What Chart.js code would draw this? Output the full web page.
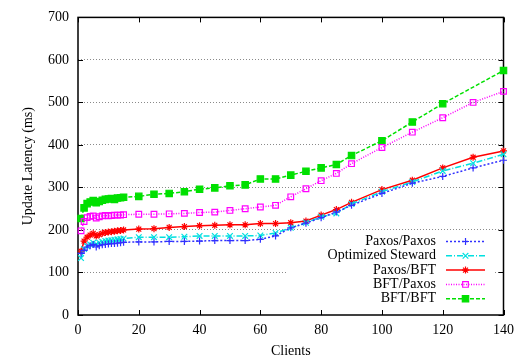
<!DOCTYPE html>
<html>
<head>
<meta charset="utf-8">
<script src="https://cdn.jsdelivr.net/npm/chart.js@4/dist/chart.umd.min.js"></script>
<style>
  body { margin: 0; background: #fff; }
  canvas { display: block; }
</style>
</head>
<body>
<canvas id="chart" width="521" height="364"></canvas>
<script>
// number of clients on the x axis
const clients = [1, 2, 3, 4, 5, 6, 7, 8, 9, 10, 11, 12, 13, 14, 15,
  20, 25, 30, 35, 40, 45, 50, 55, 60, 65, 70, 75, 80, 85, 90,
  100, 110, 120, 130, 140];

// update latency (ms) per configuration
const paxosPaxos = [145, 152, 160, 163, 166, 160, 163, 165, 166, 167, 168, 168, 169, 170, 171,
  172, 172, 173, 173, 174, 175, 175, 175, 178, 186, 205, 216, 229, 242, 258,
  286, 310, 326, 346, 364];
const optimizedSteward = [134, 155, 162, 166, 170, 167, 170, 172, 174, 175, 176, 177, 178, 179, 180,
  183, 183, 183, 184, 186, 186, 186, 186, 187, 193, 205, 217, 231, 239, 261,
  290, 313, 339, 357, 378];
const paxosBft = [150, 174, 183, 188, 192, 186, 189, 192, 194, 195, 196, 197, 198, 199, 200,
  202, 203, 206, 208, 210, 211, 212, 212, 215, 215, 217, 221, 235, 248, 265,
  295, 317, 346, 371, 386];
const bftPaxos = [198, 220, 229, 232, 233, 228, 231, 233, 234, 233, 234, 235, 235, 235, 236,
  237, 237, 238, 239, 241, 242, 246, 250, 254, 258, 278, 297, 316, 333, 356,
  394, 430, 464, 500, 526];
const bftBft = [227, 252, 262, 266, 269, 264, 267, 270, 272, 273, 274, 272, 275, 276, 277,
  279, 284, 286, 290, 296, 299, 304, 306, 320, 320, 329, 338, 346, 354, 375,
  410, 454, 497, null, 575];

const xTicks = [0, 20, 40, 60, 80, 100, 120, 140];
const yTicks = [0, 100, 200, 300, 400, 500, 600, 700];

const FONT = "'Liberation Serif', 'DejaVu Serif', serif";

function series(label, values, color, dash, style, radius, fill) {
  return {
    label: label,
    data: clients.map((c, i) => ({ x: c, y: values[i] })),
    borderColor: color,
    backgroundColor: fill ? color : 'rgba(0,0,0,0)',
    borderWidth: 1.5,
    borderDash: dash,
    pointStyle: style,
    pointRadius: radius,
    pointBorderWidth: 1.2,
    pointBorderColor: color,
    pointBackgroundColor: fill ? color : 'rgba(0,0,0,0)',
    pointHoverRadius: radius,
    tension: 0,
    spanGaps: true,
    clip: false,
  };
}

// gnuplot-like key: right-aligned text followed by a sample line and marker
const keyPlugin = {
  id: 'key',
  beforeDatasetsDraw(chart) {
    const ctx = chart.ctx;
    ctx.save();
    ctx.fillStyle = '#fff';
    ctx.fillRect(286, 233, 208, 74);
    ctx.restore();
  },
  afterDatasetsDraw(chart) {
    const ctx = chart.ctx;
    ctx.save();
    ctx.font = '14px ' + FONT;
    ctx.textAlign = 'right';
    ctx.textBaseline = 'middle';
    chart.data.datasets.forEach((ds, i) => {
      const y = 241.5 + i * 14.3;
      ctx.fillStyle = '#000';
      ctx.fillText(ds.label, 436, y);
      ctx.strokeStyle = ds.borderColor;
      ctx.lineWidth = ds.borderWidth;
      ctx.setLineDash(ds.borderDash);
      ctx.beginPath();
      ctx.moveTo(446, y);
      ctx.lineTo(485, y);
      ctx.stroke();
      ctx.setLineDash([]);
      ctx.fillStyle = ds.pointBackgroundColor;
      ctx.strokeStyle = ds.borderColor;
      ctx.lineWidth = ds.pointBorderWidth;
      Chart.helpers.drawPoint(ctx, {
        pointStyle: ds.pointStyle, radius: ds.pointRadius,
        borderWidth: ds.pointBorderWidth, rotation: 0
      }, 465.5, y);
    });
    ctx.restore();
  }
};

// plot frame with inward ticks on all four sides
const framePlugin = {
  id: 'frame',
  beforeDatasetsDraw(chart) {
    const ctx = chart.ctx;
    const a = chart.chartArea;
    const xs = chart.scales.x, ys = chart.scales.y;
    const len = 5;
    ctx.save();
    ctx.strokeStyle = '#000';
    ctx.lineWidth = 1.5;
    ctx.strokeRect(a.left, a.top, a.right - a.left, a.bottom - a.top);
    ctx.lineWidth = 1;
    ctx.beginPath();
    xTicks.forEach(v => {
      const px = Math.round(xs.getPixelForValue(v)) + 0.5;
      ctx.moveTo(px, a.bottom); ctx.lineTo(px, a.bottom - len);
      ctx.moveTo(px, a.top); ctx.lineTo(px, a.top + len);
    });
    yTicks.forEach(v => {
      const py = Math.round(ys.getPixelForValue(v)) + 0.5;
      ctx.moveTo(a.left, py); ctx.lineTo(a.left + len, py);
      ctx.moveTo(a.right, py); ctx.lineTo(a.right - len, py);
    });
    ctx.stroke();
    ctx.restore();
  }
};

const chart = new Chart(document.getElementById('chart').getContext('2d'), {
  type: 'line',
  data: {
    datasets: [
      series('Paxos/Paxos', paxosPaxos, '#3030ff', [2, 2], 'cross', 3.5, false),
      series('Optimized Steward', optimizedSteward, '#00e0e0', [6, 2, 1, 2], 'crossRot', 4, false),
      series('Paxos/BFT', paxosBft, '#ff0000', [], 'star', 3.5, false),
      series('BFT/Paxos', bftPaxos, '#ff00ff', [1, 1.5], 'rect', 4, false),
      series('BFT/BFT', bftBft, '#00e000', [4, 2], 'rect', 4.5, true),
    ],
  },
  options: {
    responsive: false,
    animation: false,
    events: [],
    layout: { padding: { top: 7, right: 14, left: 0, bottom: 0 } },
    plugins: {
      legend: { display: false },
      tooltip: { enabled: false },
    },
    scales: {
      x: {
        type: 'linear',
        min: 0,
        max: 140,
        afterBuildTicks: s => { s.ticks = xTicks.map(v => ({ value: v })); },
        afterFit: s => { s.height = 49; },
        grid: { display: false, drawTicks: false },
        border: { display: false },
        ticks: { color: '#000', padding: 7, maxRotation: 0, font: { family: FONT, size: 14 } },
        title: {
          display: true, text: 'Clients', color: '#000',
          font: { family: FONT, size: 14 }, padding: { top: 0, bottom: 4 },
        },
      },
      y: {
        type: 'linear',
        min: 0,
        max: 700,
        afterBuildTicks: s => { s.ticks = yTicks.map(v => ({ value: v })); },
        afterFit: s => { s.width = 78; },
        grid: {
          drawTicks: false,
          lineWidth: 1,
          color: c => (c.tick.value === 0 || c.tick.value === 700) ? 'rgba(0,0,0,0)' : '#8a8a8a',
        },
        border: { display: false, dash: [1, 2] },
        ticks: { color: '#000', padding: 9, font: { family: FONT, size: 14 } },
        title: {
          display: true, text: 'Update Latency (ms)', color: '#000',
          font: { family: FONT, size: 14 }, padding: { top: 20, bottom: 0 },
        },
      },
    },
  },
  plugins: [framePlugin, keyPlugin],
});
</script>
</body>
</html>
